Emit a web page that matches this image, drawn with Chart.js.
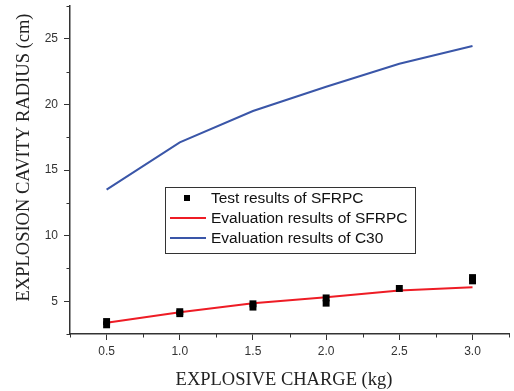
<!DOCTYPE html>
<html>
<head>
<meta charset="utf-8">
<script src="https://cdn.jsdelivr.net/npm/chart.js@4/dist/chart.umd.min.js"></script>
<style>
  html, body { margin: 0; padding: 0; background: #fff; }
  #wrap { width: 514px; height: 391px; }
</style>
</head>
<body>
<div id="wrap"><canvas id="c" width="514" height="391"></canvas></div>
<script>
// charge (kg) for the evaluation curves
const charges    = [0.5, 1.0, 1.5, 2.0, 2.5, 3.0];
const evalSFRPC  = [3.35, 4.16, 4.85, 5.3, 5.82, 6.07];
const evalC30    = [13.5, 17.1, 19.5, 21.35, 23.1, 24.45];
// measured points (two shots at most charges)
const testX      = [0.5, 0.5, 1.0, 1.0, 1.5, 1.5, 2.0, 2.0, 2.5, 3.0, 3.0];
const testY      = [3.45, 3.2, 4.2, 4.05, 4.8, 4.55, 5.25, 4.85, 5.97, 6.8, 6.55];

const xTickLabels = ['0.5', '1.0', '1.5', '2.0', '2.5', '3.0'];
const yTickLabels = ['5', '10', '15', '20', '25'];

const LABELS = ['Test results of SFRPC', 'Evaluation results of SFRPC', 'Evaluation results of C30'];
const RED  = '#ee1c25';
const BLUE = '#3a56a8';
const AXIS = '#333';

const pts = (xs, ys) => xs.map((x, i) => ({ x, y: ys[i] }));
const near = (v, list) => list.find(s => Math.abs(parseFloat(s) - v) < 1e-6);

// minor ticks (unlabelled) drawn shorter than the major ones
const minorTicks = {
    id: 'minorTicks',
    afterDraw(chart) {
        const ctx = chart.ctx;
        ctx.save();
        ctx.strokeStyle = AXIS;
        ctx.lineWidth = 1;
        const xs = chart.scales.x, ys = chart.scales.y;
        xs.ticks.forEach(t => {
            if (near(t.value, xTickLabels)) return;
            const px = Math.round(xs.getPixelForValue(t.value)) + 0.5;
            ctx.beginPath(); ctx.moveTo(px, ys.bottom); ctx.lineTo(px, ys.bottom + 3.5); ctx.stroke();
        });
        ys.ticks.forEach(t => {
            if (near(t.value, yTickLabels)) return;
            const py = Math.round(ys.getPixelForValue(t.value)) + 0.5;
            ctx.beginPath(); ctx.moveTo(xs.left, py); ctx.lineTo(xs.left - 3.5, py); ctx.stroke();
        });
        ctx.restore();
    }
};

// axis titles in serif, placed like the original
const axisTitles = {
    id: 'axisTitles',
    afterDraw(chart) {
        const ctx = chart.ctx;
        ctx.save();
        ctx.fillStyle = '#222';
        ctx.font = '18.5px "Liberation Serif", "Times New Roman", serif';
        ctx.textAlign = 'center';
        ctx.textBaseline = 'middle';
        ctx.fillText('EXPLOSIVE CHARGE (kg)', 284, 380);
        ctx.translate(24, 157.5);
        ctx.rotate(-Math.PI / 2);
        ctx.fillText('EXPLOSION CAVITY RADIUS (cm)', 0, 0);
        ctx.restore();
    }
};

// boxed legend inside the plot
const boxLegend = {
    id: 'boxLegend',
    afterDraw(chart) {
        const ctx = chart.ctx;
        const bx = 165.5, by = 187.5, bw = 250, bh = 66;
        ctx.save();
        ctx.strokeStyle = '#333';
        ctx.lineWidth = 1;
        ctx.strokeRect(bx, by, bw, bh);
        ctx.font = '15.5px "Liberation Sans", Arial, sans-serif';
        ctx.textBaseline = 'middle';
        chart.data.datasets.forEach((ds, i) => {
            const y = 198 + i * 20;
            if (ds.showLine === false) {
                ctx.fillStyle = '#000';
                ctx.fillRect(184, y - 3, 6, 6);
            } else {
                ctx.strokeStyle = ds.borderColor;
                ctx.lineWidth = 2;
                ctx.beginPath(); ctx.moveTo(170, y); ctx.lineTo(206, y); ctx.stroke();
            }
            ctx.fillStyle = '#111';
            ctx.fillText(ds.label, 211, y + 1);
        });
        ctx.restore();
    }
};

new Chart(document.getElementById('c'), {
    type: 'line',
    data: {
        datasets: [
            {
                label: LABELS[0],
                data: pts(testX, testY),
                showLine: false,
                pointStyle: 'rect',
                pointRadius: 4.9,
                pointBackgroundColor: '#000',
                pointBorderWidth: 0,
                order: 0,
            },
            {
                label: LABELS[1],
                data: pts(charges, evalSFRPC),
                borderColor: RED,
                borderWidth: 2,
                pointRadius: 0,
                tension: 0,
                order: 1,
            },
            {
                label: LABELS[2],
                data: pts(charges, evalC30),
                borderColor: BLUE,
                borderWidth: 2,
                pointRadius: 0,
                tension: 0,
                order: 2,
            },
        ],
    },
    options: {
        responsive: false,
        animation: false,
        layout: { padding: { top: 6, right: 4, left: 0, bottom: 0 } },
        plugins: { legend: { display: false }, tooltip: { enabled: false } },
        scales: {
            x: {
                type: 'linear',
                min: 0.25, max: 3.25,
                afterFit: s => { s.height = 57; s.paddingLeft = 0; s.paddingRight = 0; },
                border: { display: true, color: AXIS, width: 1.5 },
                grid: {
                    drawOnChartArea: false, drawTicks: true, tickLength: 6,
                    tickColor: c => near(c.tick.value, xTickLabels) ? AXIS : 'rgba(0,0,0,0)',
                },
                ticks: {
                    stepSize: 0.25, autoSkip: false, maxRotation: 0, padding: 4,
                    color: '#333',
                    font: { family: '"Liberation Sans", Arial, sans-serif', size: 12 },
                    callback: v => near(v, xTickLabels) || '',
                },
            },
            y: {
                type: 'linear',
                min: 2.5, max: 27.5,
                afterFit: s => { s.width = 70; s.paddingTop = 0; s.paddingBottom = 0; },
                border: { display: true, color: AXIS, width: 1.5 },
                grid: {
                    drawOnChartArea: false, drawTicks: true, tickLength: 6,
                    tickColor: c => near(c.tick.value, yTickLabels) ? AXIS : 'rgba(0,0,0,0)',
                },
                ticks: {
                    stepSize: 2.5, autoSkip: false, padding: 6,
                    color: '#333',
                    font: { family: '"Liberation Sans", Arial, sans-serif', size: 12 },
                    callback: v => near(v, yTickLabels) || '',
                },
            },
        },
    },
    plugins: [minorTicks, axisTitles, boxLegend],
});
</script>
</body>
</html>
